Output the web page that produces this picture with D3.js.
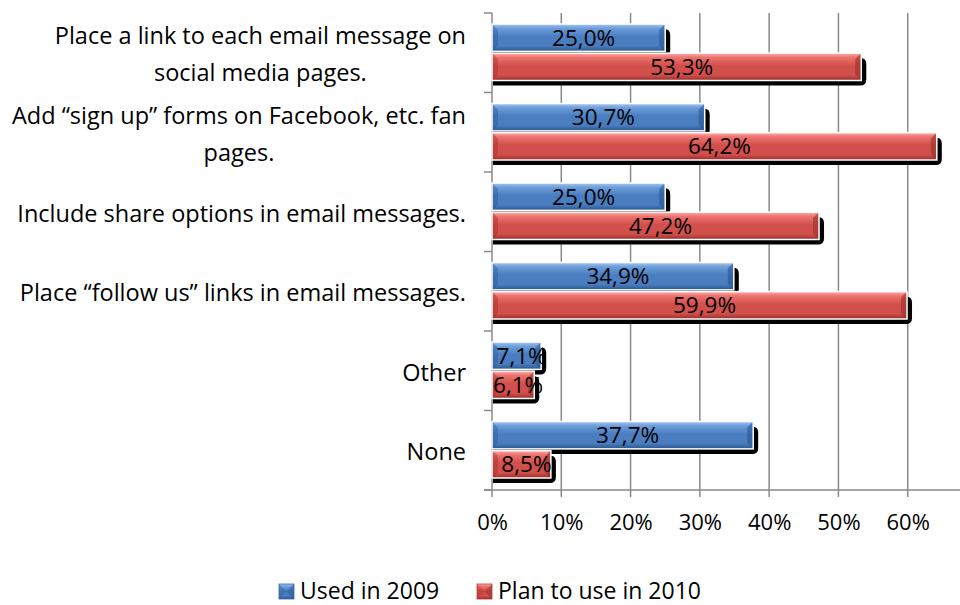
<!DOCTYPE html>
<html>
<head>
<meta charset="utf-8">
<script src="https://cdn.jsdelivr.net/npm/d3@7"></script>
<style>
  html, body { margin: 0; padding: 0; background: #fff; }
  svg { display: block; font-family: "Open Sans", "Noto Sans", sans-serif; }
</style>
</head>
<body>
<svg id="chart" width="960" height="605"></svg>
<script>
// Social media integration tactics, 2009 usage vs 2010 plans
const categories = [
  ["Place a link to each email message on", "social media pages."],
  ["Add \u201csign up\u201d forms on Facebook, etc. fan", "pages."],
  ["Include share options in email messages."],
  ["Place \u201cfollow us\u201d links in email messages."],
  ["Other"],
  ["None"]
];
const used2009 = [25.0, 30.7, 25.0, 34.9, 7.1, 37.7];
const plan2010 = [53.3, 64.2, 47.2, 59.9, 6.1, 8.5];
const tickValues = [0, 10, 20, 30, 40, 50, 60];
const seriesNames = ["Used in 2009", "Plan to use in 2010"];

const svg = d3.select("#chart");
const plot = { left: 492, right: 977, top: 13, bottom: 490 };
const fontSize = 22.5;
const catFontSize = 23.5;

const x = d3.scaleLinear().domain([0, 70]).range([plot.left, plot.right]);
const y = d3.scaleBand().domain(d3.range(categories.length)).range([plot.top, plot.bottom]);
const inner = d3.scaleBand().domain([0, 1]).range([11, y.bandwidth() - 12]).paddingInner(0.06);

const palettes = [
  { top: "#a9c8f0", light: "#6e9fdc", mid: "#4a7ec0", dark: "#28558f", edge: "#3a6aa6" },
  { top: "#ffb0ad", light: "#ee7470", mid: "#d2504c", dark: "#982e2b", edge: "#b43e3b" }
];

// gradients
const defs = svg.append("defs");
palettes.forEach((p, i) => {
  const g = defs.append("linearGradient").attr("id", "grad" + i)
    .attr("x1", 0).attr("y1", 0).attr("x2", 0).attr("y2", 1);
  g.append("stop").attr("offset", "0%").attr("stop-color", p.top);
  g.append("stop").attr("offset", "15%").attr("stop-color", p.light);
  g.append("stop").attr("offset", "45%").attr("stop-color", p.mid);
  g.append("stop").attr("offset", "80%").attr("stop-color", p.mid);
  g.append("stop").attr("offset", "100%").attr("stop-color", p.dark);
});

// gridlines
const grid = svg.append("g");
grid.selectAll("line.grid").data(tickValues.slice(1)).join("line")
  .attr("x1", d => x(d)).attr("x2", d => x(d))
  .attr("y1", plot.top).attr("y2", plot.bottom + 7)
  .attr("stroke", "#8a8a8a").attr("stroke-width", 1.5);

// category axis with tick marks at band boundaries
const bounds = d3.range(categories.length + 1).map(i => plot.top + i * y.bandwidth());
grid.append("line").attr("x1", plot.left).attr("x2", plot.left)
  .attr("y1", plot.top).attr("y2", plot.bottom + 7)
  .attr("stroke", "#8a8a8a").attr("stroke-width", 1.5);
grid.selectAll("line.ctick").data(bounds).join("line")
  .attr("x1", plot.left - 8).attr("x2", plot.left)
  .attr("y1", d => d).attr("y2", d => d)
  .attr("stroke", "#8a8a8a").attr("stroke-width", 1.5);
grid.append("line").attr("x1", plot.left - 8).attr("x2", 960)
  .attr("y1", plot.bottom).attr("y2", plot.bottom)
  .attr("stroke", "#8a8a8a").attr("stroke-width", 1.5);

// value axis labels
const xAxis = d3.axisBottom(x).tickValues(tickValues).tickFormat(d => d + "%").tickSize(0).tickPadding(0);
const ax = svg.append("g").attr("transform", `translate(0,${plot.bottom + 32})`).call(xAxis);
ax.select(".domain").remove();
ax.selectAll("text").attr("font-size", 22).attr("fill", "#000")
  .attr("font-family", "'Open Sans', sans-serif").attr("dy", "0.36em");

// bar data
const bars = [];
categories.forEach((c, i) => {
  [used2009[i], plan2010[i]].forEach((v, s) => {
    bars.push({ cat: i, s, v, x0: x(0), x1: x(v), y0: y(i) + inner(s), h: inner.bandwidth() });
  });
});

// shadows
svg.append("g").selectAll("path").data(bars).join("path")
  .attr("fill", "#000")
  .attr("d", d => {
    const ox = 5, oy = 5, r = 6;
    const x0 = d.x0 + ox - 4, x1 = d.x1 + ox, y0 = d.y0 + oy, y1 = d.y0 + d.h + oy;
    return `M${x0},${y0} L${x1 - r},${y0} Q${x1},${y0} ${x1},${y0 + r} L${x1},${y1 - r} Q${x1},${y1} ${x1 - r},${y1} L${x0},${y1} Z`;
  });

// bevelled bars
const barG = svg.append("g").selectAll("g").data(bars).join("g");
barG.append("rect")
  .attr("x", d => d.x0).attr("y", d => d.y0)
  .attr("width", d => d.x1 - d.x0).attr("height", d => d.h)
  .attr("fill", d => `url(#grad${d.s})`);
const bevel = 6;
barG.append("path").attr("fill", d => palettes[d.s].dark).attr("opacity", 0.6)
  .attr("d", d => {
    const b = Math.min(bevel, (d.x1 - d.x0) / 2);
    return `M${d.x1},${d.y0} L${d.x1},${d.y0 + d.h} L${d.x1 - b},${d.y0 + d.h - b} L${d.x1 - b},${d.y0 + b} Z`;
  });
barG.append("path").attr("fill", d => palettes[d.s].dark).attr("opacity", 0.4)
  .attr("d", d => {
    const b = Math.min(bevel, (d.x1 - d.x0) / 2);
    return `M${d.x0},${d.y0} L${d.x0 + b},${d.y0 + b} L${d.x0 + b},${d.y0 + d.h - b} L${d.x0},${d.y0 + d.h} Z`;
  });
barG.append("rect")
  .attr("x", d => d.x0).attr("y", d => d.y0)
  .attr("width", d => d.x1 - d.x0).attr("height", d => d.h)
  .attr("fill", "none").attr("stroke", "#fff").attr("stroke-width", 1.5);

// value labels
barG.append("text")
  .attr("x", d => (d.x0 + d.x1) / 2 + 5)
  .attr("y", d => d.y0 + d.h / 2)
  .attr("dy", "0.36em")
  .attr("text-anchor", "middle")
  .attr("font-size", fontSize)
  .attr("fill", "#000")
  .text(d => d.v.toFixed(1).replace(".", ",") + "%");

// category labels: block right-aligned to the axis, lines centred in the block
const labelRight = 466;
const lineGap = 37;
categories.forEach((lines, i) => {
  const cy = y(i) + y.bandwidth() / 2 + 1.5;
  const t = svg.append("text").attr("font-size", catFontSize).attr("fill", "#000");
  const spans = lines.map((ln, k) => t.append("tspan").text(ln)
    .attr("y", cy + (k - (lines.length - 1) / 2) * lineGap).attr("dy", "0.36em"));
  const maxW = d3.max(spans.map(s => s.node().getComputedTextLength()));
  const center = labelRight - maxW / 2;
  spans.forEach(s => s.attr("x", center).attr("text-anchor", "middle"));
});

// legend
const legend = svg.append("g");
const legendX = [279, 477];
seriesNames.forEach((name, s) => {
  const g = legend.append("g").attr("transform", `translate(${legendX[s]},584)`);
  g.append("rect").attr("width", 15).attr("height", 15).attr("fill", `url(#grad${s})`)
    .attr("stroke", palettes[s].edge).attr("stroke-width", 0.8);
  g.append("path").attr("fill", palettes[s].dark).attr("opacity", 0.5)
    .attr("d", "M15,0 L15,15 L7.5,7.5 Z");
  g.append("path").attr("fill", palettes[s].dark).attr("opacity", 0.3)
    .attr("d", "M0,0 L7.5,7.5 L0,15 Z");
  g.append("text").attr("x", 21).attr("y", 7.5).attr("dy", "0.34em")
    .attr("font-size", 23).attr("fill", "#000").text(name);
});
</script>
</body>
</html>
